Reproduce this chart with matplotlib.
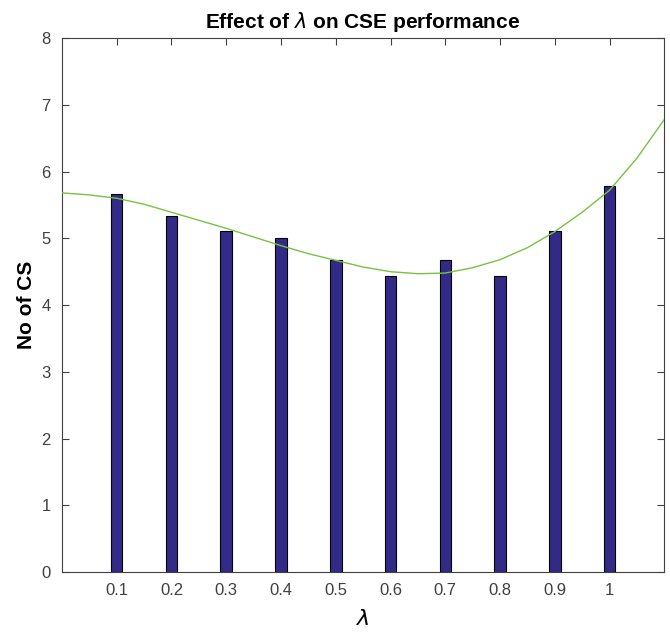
import matplotlib
matplotlib.use("Agg")
import matplotlib.pyplot as plt

# bar data
lambdas = [0.1, 0.2, 0.3, 0.4, 0.5, 0.6, 0.7, 0.8, 0.9, 1.0]
num_cs = [5.67, 5.33, 5.11, 5.00, 4.67, 4.44, 4.67, 4.44, 5.11, 5.78]
tick_labels = ["0.1", "0.2", "0.3", "0.4", "0.5", "0.6", "0.7", "0.8", "0.9", "1"]

# fitted trend curve
curve_x = [0.00, 0.05, 0.10, 0.15, 0.20, 0.25, 0.30, 0.35, 0.40, 0.45, 0.50,
           0.55, 0.60, 0.65, 0.70, 0.75, 0.80, 0.85, 0.90, 0.95, 1.00, 1.05, 1.10]
curve_y = [5.68, 5.65, 5.60, 5.51, 5.39, 5.27, 5.15, 5.02, 4.89, 4.77, 4.67,
           4.57, 4.50, 4.47, 4.48, 4.56, 4.68, 4.86, 5.10, 5.39, 5.72, 6.20, 6.78]

plt.rcParams["font.family"] = ["Liberation Sans", "DejaVu Sans"]

fig = plt.figure(figsize=(6.7, 6.33), dpi=100)
ax = fig.add_axes([0.0925, 0.096, 0.899, 0.844])

ax.bar(lambdas, num_cs, width=0.021, color="#332a88",
       edgecolor="black", linewidth=0.8, zorder=2)
ax.plot(curve_x, curve_y, color="#7ac143", linewidth=1.0, zorder=3,
        solid_joinstyle="round")

ax.set_xlim(0, 1.1)
ax.set_ylim(0, 8)
ax.set_xticks(lambdas)
ax.set_xticklabels(tick_labels)
ax.set_yticks(range(0, 9))

tick_font = ["Liberation Sans Narrow", "Liberation Sans", "DejaVu Sans"]
for lab in ax.get_xticklabels() + ax.get_yticklabels():
    lab.set_family(tick_font)
    lab.set_fontsize(12)
    lab.set_color("#404040")

ax.tick_params(direction="in", top=True, right=True, length=5,
               width=0.8, color="#404040", pad=8)
for s in ax.spines.values():
    s.set_color("#404040")
    s.set_linewidth(0.8)

ax.set_title("Effect of $\\lambda$ on CSE performance", fontsize=15,
             fontweight="bold", pad=7)
ax.set_ylabel("No of CS", fontsize=15, fontweight="bold", labelpad=4)
ax.set_xlabel("$\\lambda$", fontsize=16, labelpad=8)

fig.savefig("out.png", dpi=100)
